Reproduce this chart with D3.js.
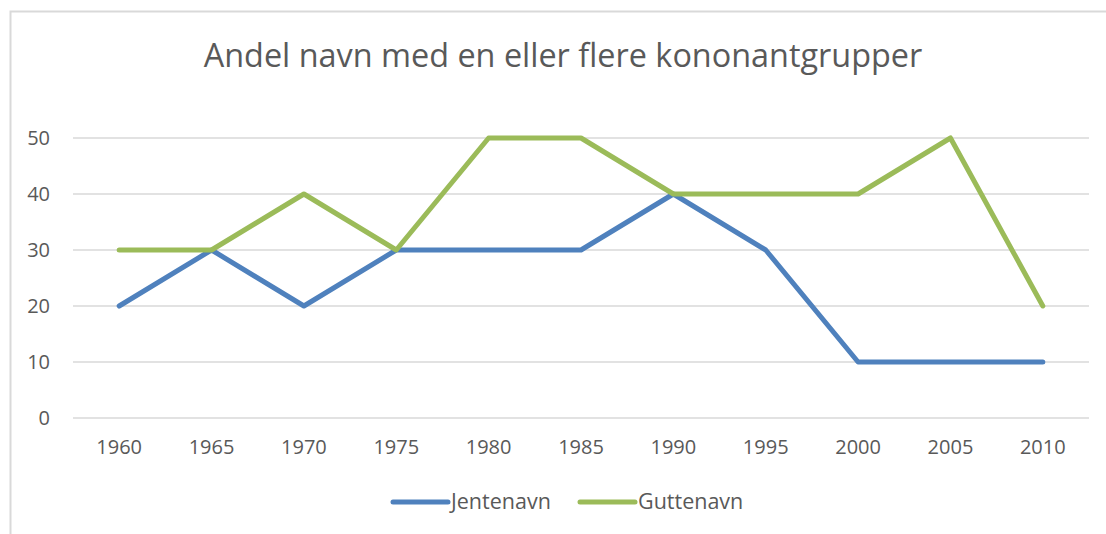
<!DOCTYPE html>
<html>
<head>
<meta charset="utf-8">
<script src="https://cdn.jsdelivr.net/npm/d3@7"></script>
<style>
    body { margin: 0; background: #fff; }
    svg { display: block; }
</style>
</head>
<body>
<svg id="chart"></svg>
<script>
// data
const years = ["1960", "1965", "1970", "1975", "1980", "1985", "1990", "1995", "2000", "2005", "2010"];
const jentenavn = [20, 30, 20, 30, 30, 30, 40, 30, 10, 10, 10];
const guttenavn = [30, 30, 40, 30, 50, 50, 40, 40, 40, 50, 20];
const yTicks = [0, 10, 20, 30, 40, 50];
const seriesNames = ["Jentenavn", "Guttenavn"];
const seriesColors = ["#4f81bd", "#9bbb59"];

const width = 1106, height = 534;
const font = "'Open Sans', 'Noto Sans', sans-serif";
const textColor = "#595959";

const svg = d3.select("#chart")
    .attr("width", width)
    .attr("height", height);

//chart border (only top and left visible in the crop)
svg.append("rect")
    .attr("x", 10.5)
    .attr("y", 11.5)
    .attr("width", width + 20)
    .attr("height", height + 20)
    .attr("fill", "#fff")
    .attr("stroke", "#d9d9d9")
    .attr("stroke-width", 2);

//title
svg.append("text")
    .attr("x", 563)
    .attr("y", 67)
    .attr("text-anchor", "middle")
    .attr("font-family", font)
    .attr("font-size", 32.4)
    .attr("fill", textColor)
    .text("Andel navn med en eller flere kononantgrupper");

//scales
const x = d3.scaleBand()
    .domain(years)
    .range([73, 1089]);

const y = d3.scaleLinear()
    .domain([0, 50])
    .range([418, 138]);

//gridlines
svg.append("g")
    .selectAll("line")
    .data(yTicks)
    .join("line")
    .attr("x1", x.range()[0])
    .attr("x2", x.range()[1])
    .attr("y1", d => y(d))
    .attr("y2", d => y(d))
    .attr("stroke", "#d9d9d9")
    .attr("stroke-width", 1.5);

//y labels
svg.append("g")
    .selectAll("text")
    .data(yTicks)
    .join("text")
    .attr("x", 50)
    .attr("y", d => y(d) + 7)
    .attr("text-anchor", "end")
    .attr("font-family", font)
    .attr("font-size", 20)
    .attr("fill", textColor)
    .text(d => d);

//x labels
svg.append("g")
    .selectAll("text")
    .data(years)
    .join("text")
    .attr("x", d => x(d) + x.bandwidth() / 2)
    .attr("y", 454)
    .attr("text-anchor", "middle")
    .attr("font-family", font)
    .attr("font-size", 20)
    .attr("fill", textColor)
    .text(d => d);

//lines
const line = d3.line()
    .x((d, i) => x(years[i]) + x.bandwidth() / 2)
    .y(d => y(d));

[jentenavn, guttenavn].forEach((values, i) => {
    svg.append("path")
        .datum(values)
        .attr("d", line)
        .attr("fill", "none")
        .attr("stroke", seriesColors[i])
        .attr("stroke-width", 5)
        .attr("stroke-linejoin", "round")
        .attr("stroke-linecap", "round");
});

//legend
const legendX = [393, 580];
const legend = svg.append("g");
seriesNames.forEach((name, i) => {
    legend.append("line")
        .attr("x1", legendX[i])
        .attr("x2", legendX[i] + 55)
        .attr("y1", 502)
        .attr("y2", 502)
        .attr("stroke", seriesColors[i])
        .attr("stroke-width", 5)
        .attr("stroke-linecap", "round");
    legend.append("text")
        .attr("x", legendX[i] + 58)
        .attr("y", 509)
        .attr("font-family", font)
        .attr("font-size", 21.5)
        .attr("fill", textColor)
        .text(name);
});
</script>
</body>
</html>
